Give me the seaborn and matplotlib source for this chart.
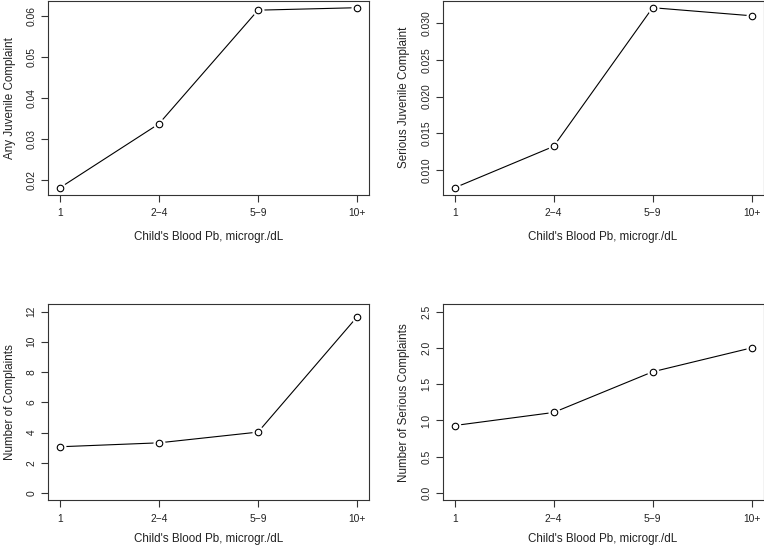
import numpy as np
import pandas as pd
import matplotlib
matplotlib.use("Agg")
import matplotlib.pyplot as plt
import seaborn as sns

# data
lead_groups = ["1", "2\u22124", "5\u22129", "10+"]
any_complaint = [0.0182, 0.0338, 0.0615, 0.0621]
serious_complaint = [0.00756, 0.0132, 0.0321, 0.0310]
n_complaints = [3.06, 3.32, 4.03, 11.65]
n_serious = [0.93, 1.11, 1.67, 2.0]

sns.set_theme(style="ticks")
plt.rcParams['font.family'] = ['Liberation Sans', 'DejaVu Sans']
plt.rcParams['axes.edgecolor'] = '#333333'
plt.rcParams['axes.linewidth'] = 0.8

fig = plt.figure(figsize=(7.64, 5.49), dpi=100)

W, H = 764, 549
def px_axes(l, t, r, b):
    return fig.add_axes([l / W, 1 - b / H, (r - l) / W, (b - t) / H])

panels = [
    # box in pixels, values, ylabel, yticks, fixed ylim, tick format, xlabel pad
    ((48, 0.5, 369, 195), any_complaint, "Any Juvenile Complaint",
     np.arange(0.02, 0.0601, 0.01), None, "{:.2f}", 9),
    ((442.7, 0.5, 763.5, 195), serious_complaint, "Serious Juvenile Complaint",
     np.arange(0.010, 0.0301, 0.005), None, "{:.3f}", 9),
    ((48, 304.3, 369, 500.3), n_complaints, "Number of Complaints",
     np.arange(0, 12.1, 2), (0, 12), "{:.0f}", 6.5),
    ((442.7, 304.3, 763.5, 500.3), n_serious, "Number of Serious Complaints",
     np.arange(0, 2.51, 0.5), (0, 2.5), "{:.1f}", 6.5),
]

for box, vals, ylab, yticks, ylim, fmt, xpad in panels:
    ax = px_axes(*box)
    df = pd.DataFrame({"group": lead_groups, "value": vals})
    sns.lineplot(data=df, x="group", y="value", sort=False, color="black",
                 linewidth=0.8, ax=ax, zorder=2)
    # white halo to leave a gap between line and point (R type="b")
    sns.scatterplot(data=df, x="group", y="value", s=75, color="white",
                    linewidth=0, ax=ax, zorder=3)
    sns.scatterplot(data=df, x="group", y="value", s=22, facecolor="white",
                    edgecolor="black", linewidth=0.8, ax=ax, zorder=4)

    ax.set_xlim(-0.12, 3.12)
    if ylim is None:
        lo, hi = min(vals), max(vals)
    else:
        lo, hi = ylim
    pad = (hi - lo) * 0.04
    ax.set_ylim(lo - pad, hi + pad)
    ax.set_yticks(yticks)
    ax.set_yticklabels([fmt.format(v) for v in yticks], rotation=90, va="center")

    ax.tick_params(axis="both", direction="out", length=4.7, width=0.8,
                   color="#333333", labelsize=7.4, labelcolor="#222222")
    ax.tick_params(axis="x", pad=5)
    ax.tick_params(axis="y", pad=3.5)
    ax.set_xlabel("Child's Blood Pb, microgr./dL", fontsize=8.4,
                  color="#222222", labelpad=xpad)
    ax.set_ylabel(ylab, fontsize=8.4, color="#222222", labelpad=8)
    for sp in ax.spines.values():
        sp.set_visible(True)

fig.savefig("out.png", dpi=100)
